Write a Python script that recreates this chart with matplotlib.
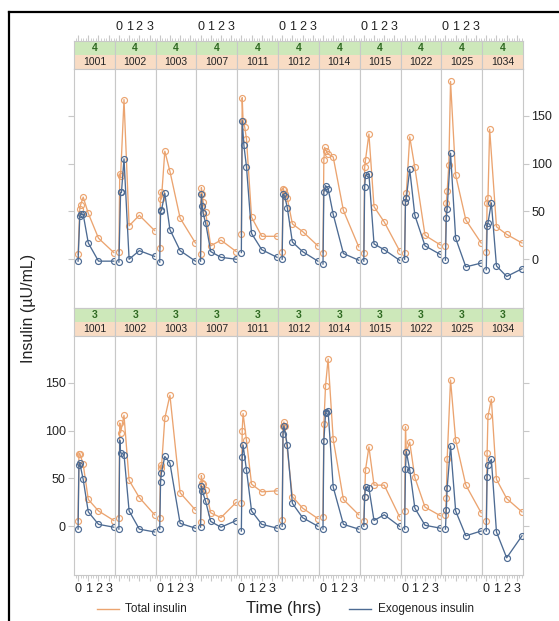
import matplotlib
matplotlib.use("Agg")
import matplotlib.pyplot as plt
from matplotlib.ticker import FixedLocator, MultipleLocator, NullFormatter
from matplotlib.lines import Line2D

plt.rcParams['font.family'] = ['Liberation Sans', 'DejaVu Sans']

# ---------------- data ----------------
TIMES = [0, 0.083, 0.167, 0.25, 0.333, 0.5, 1, 2, 3.5]
SUBJECTS = ['1001', '1002', '1003', '1007', '1011', '1012', '1014', '1015', '1022', '1025', '1034']
WEEKS = ['4', '3']
N = None

TOTAL_4 = [
    [5, N, 53, 57, N, 65, 48, 22, 7],
    [8, 89, 87, N, N, 167, 35, 46, 30],
    [12, 70, 63, N, N, 113, 92, 43, 17],
    [5, 75, 68, 60, N, 49, 14, 20, 8],
    [26, 169, 145, N, 138, 126, 44, 24, 24],
    [8, 74, 72, 68, N, 64, 37, 29, 14],
    [7, 104, 117, N, 113, 110, 107, 51, 13],
    [7, 96, 104, N, N, 131, 55, 39, 9],
    [7, 60, 69, N, N, 128, 96, 25, 15],
    [14, 59, 71, N, 99, 186, 88, 41, 17],
    [8, 59, 64, N, 136, N, 34, 26, 17],
]
EXO_4 = [
    [-2, N, 45, 47, N, 47, 17, -2, -2],
    [-3, N, 70, 70, N, 105, 0, 9, 3],
    [-3, 50, 51, N, N, 69, 31, 9, -2],
    [-2, 68, 56, 48, N, 38, 8, 2, 0],
    [7, 145, N, 119, N, 97, 27, 10, 2],
    [0, 68, N, 66, N, 54, 18, 8, -2],
    [-5, 70, N, 77, N, 74, 47, 6, -1],
    [-2, 76, 88, N, N, 89, 16, 10, -1],
    [0, 60, 64, N, N, 94, 46, 14, 5],
    [-1, 43, 53, N, N, 111, 22, -8, -4],
    [-11, 35, 38, N, N, 59, -7, -18, -10],
]
TOTAL_3 = [
    [6, 76, 76, N, N, 65, 28, 16, 6],
    [9, 108, 98, N, N, 116, 48, 30, 12],
    [9, 64, 61, N, N, 113, 137, 35, 17],
    [4, 53, 45, 44, N, 38, 14, 9, 25],
    [24, 100, 118, N, N, 90, 44, 36, 37],
    [7, 105, 109, 105, N, N, 31, 19, 8],
    [10, 107, N, 147, N, 175, 91, 28, 12],
    [6, 31, 59, N, N, 83, 43, 43, 10],
    [16, 104, 78, N, N, 88, 51, 20, 11],
    [12, 30, 70, N, N, 153, 90, 43, 14],
    [5, 77, 115, N, N, 133, 49, 29, 15],
]
EXO_3 = [
    [-3, 64, 66, N, N, 49, 15, 2, -1],
    [-3, 90, 77, N, N, 75, 16, -3, -6],
    [-3, 46, 56, N, N, 73, 66, 3, -2],
    [-1, 42, 37, N, N, 26, 5, -1, 6],
    [-5, 72, 85, N, N, 59, 16, 2, -2],
    [0, 96, 105, N, N, 85, 24, 9, 0],
    [-3, 89, N, 118, 120, 121, 41, 2, -3],
    [0, 31, 41, N, N, 40, 6, 12, 0],
    [-3, 60, 78, N, N, 59, 19, 1, -2],
    [-3, 17, 40, N, N, 84, 16, -10, -5],
    [-5, 52, 64, N, N, 70, -6, -33, -10],
]
Y_TICKS = [0, 50, 100, 150]
X_TICKS = [0, 1, 2, 3]
SERIES_NAMES = ['Total insulin', 'Exogenous insulin']

# ---------------- style ----------------
ORANGE = '#EBA470'
BLUE = '#4D6B93'
GREEN_STRIP = '#CDE8BA'
ORANGE_STRIP = '#F8DCC4'
GRID = '#C8C8C8'
TXT = '#222222'

W, H = 559, 621
fig = plt.figure(figsize=(W / 100, H / 100), dpi=100)


def rect(x0, y0, x1, y1):
    return [x0 / W, 1 - y1 / H, (x1 - x0) / W, (y1 - y0) / H]


X0, X1 = 74, 523
PW = (X1 - X0) / 11
XLIM = (-0.4, 3.6)
YLIM = (-51, 199)
ROWS = [dict(strip=(41, 69), data=(69, 308)), dict(strip=(308, 336), data=(336, 575))]
DATA = [(TOTAL_4, EXO_4), (TOTAL_3, EXO_3)]


def clean(vals):
    t = [TIMES[k] for k, v in enumerate(vals) if v is not None]
    y = [v for v in vals if v is not None]
    return t, y


def style_spines(ax):
    for s in ax.spines.values():
        s.set_color(GRID)
        s.set_linewidth(0.8)


for r, row in enumerate(ROWS):
    totals, exos = DATA[r]
    for i, subj in enumerate(SUBJECTS):
        xa = X0 + i * PW
        xb = xa + PW
        # strip
        axs = fig.add_axes(rect(xa, row['strip'][0], xb, row['strip'][1]))
        axs.set_xlim(*XLIM)
        axs.set_ylim(0, 2)
        axs.axhspan(1, 2, color=GREEN_STRIP, lw=0)
        axs.axhspan(0, 1, color=ORANGE_STRIP, lw=0)
        axs.text(0.5, 0.75, WEEKS[r], transform=axs.transAxes, ha='center', va='center',
                 fontsize=7.5, color='#2F6A22', fontweight='bold')
        axs.text(0.5, 0.25, subj, transform=axs.transAxes, ha='center', va='center',
                 fontsize=7.5, color=TXT)
        style_spines(axs)
        axs.set_yticks([])
        if r == 0:
            axs.xaxis.set_ticks_position('top')
            axs.xaxis.set_major_locator(FixedLocator(X_TICKS))
            axs.xaxis.set_minor_locator(MultipleLocator(0.25))
            axs.tick_params(axis='x', which='both', direction='out', color=GRID,
                            labelcolor=TXT, labelsize=9, pad=2)
            axs.tick_params(axis='x', which='major', length=4)
            axs.tick_params(axis='x', which='minor', length=2.5)
            if i % 2 == 1:
                axs.set_xticklabels([str(v) for v in X_TICKS])
            else:
                axs.xaxis.set_major_formatter(NullFormatter())
        else:
            axs.set_xticks([])

        # data panel
        ax = fig.add_axes(rect(xa, row['data'][0], xb, row['data'][1]))
        ax.set_xlim(*XLIM)
        ax.set_ylim(*YLIM)
        style_spines(ax)
        t, y = clean(totals[i])
        ax.plot(t, y, color=ORANGE, lw=0.95, marker='o', ms=4.3, mfc='none', mew=0.85, zorder=2)
        t, y = clean(exos[i])
        ax.plot(t, y, color=BLUE, lw=0.95, marker='o', ms=4.3, mfc='none', mew=0.85, zorder=3)

        if r == 1:
            ax.xaxis.set_major_locator(FixedLocator(X_TICKS))
            ax.xaxis.set_minor_locator(MultipleLocator(0.25))
            ax.tick_params(axis='x', which='both', direction='out', color=GRID,
                           labelcolor=TXT, labelsize=9, pad=2)
            ax.tick_params(axis='x', which='major', length=4)
            ax.tick_params(axis='x', which='minor', length=2.5)
            if i % 2 == 0:
                ax.set_xticklabels([str(v) for v in X_TICKS])
            else:
                ax.xaxis.set_major_formatter(NullFormatter())
        else:
            ax.set_xticks([])

        ax.yaxis.set_major_locator(FixedLocator(Y_TICKS))
        if i == 0:
            ax.yaxis.set_ticks_position('left')
            ax.tick_params(axis='y', direction='out', length=4, color=GRID,
                           labelcolor=TXT, labelsize=9, pad=2, labelleft=(r == 1))
        elif i == len(SUBJECTS) - 1:
            ax.yaxis.set_ticks_position('right')
            ax.tick_params(axis='y', direction='out', length=4, color=GRID,
                           labelcolor=TXT, labelsize=9, pad=2, labelright=(r == 0))
        else:
            ax.tick_params(axis='y', left=False, right=False, labelleft=False, labelright=False)

# labels
fig.text(28 / W, 1 - 308 / H, 'Insulin (µU/mL)', rotation=90, ha='center', va='center',
         fontsize=11.5, color=TXT)
fig.text(284 / W, 1 - 608 / H, 'Time (hrs)', ha='center', va='center', fontsize=12, color=TXT)

# legend entries
fig.add_artist(Line2D([97 / W, 119 / W], [1 - 609 / H] * 2, color=ORANGE, lw=1.0))
fig.text(125 / W, 1 - 609 / H, SERIES_NAMES[0], ha='left', va='center', fontsize=8.5, color=TXT)
fig.add_artist(Line2D([349 / W, 371 / W], [1 - 609 / H] * 2, color=BLUE, lw=1.0))
fig.text(378 / W, 1 - 609 / H, SERIES_NAMES[1], ha='left', va='center', fontsize=8.5, color=TXT)

# outer border (top and left)
fig.add_artist(Line2D([9 / W, 1.0], [1 - 12 / H] * 2, color='black', lw=1.6))
fig.add_artist(Line2D([9 / W, 9 / W], [0, 1 - 12 / H], color='black', lw=1.6))

fig.savefig('out.png', dpi=100)
